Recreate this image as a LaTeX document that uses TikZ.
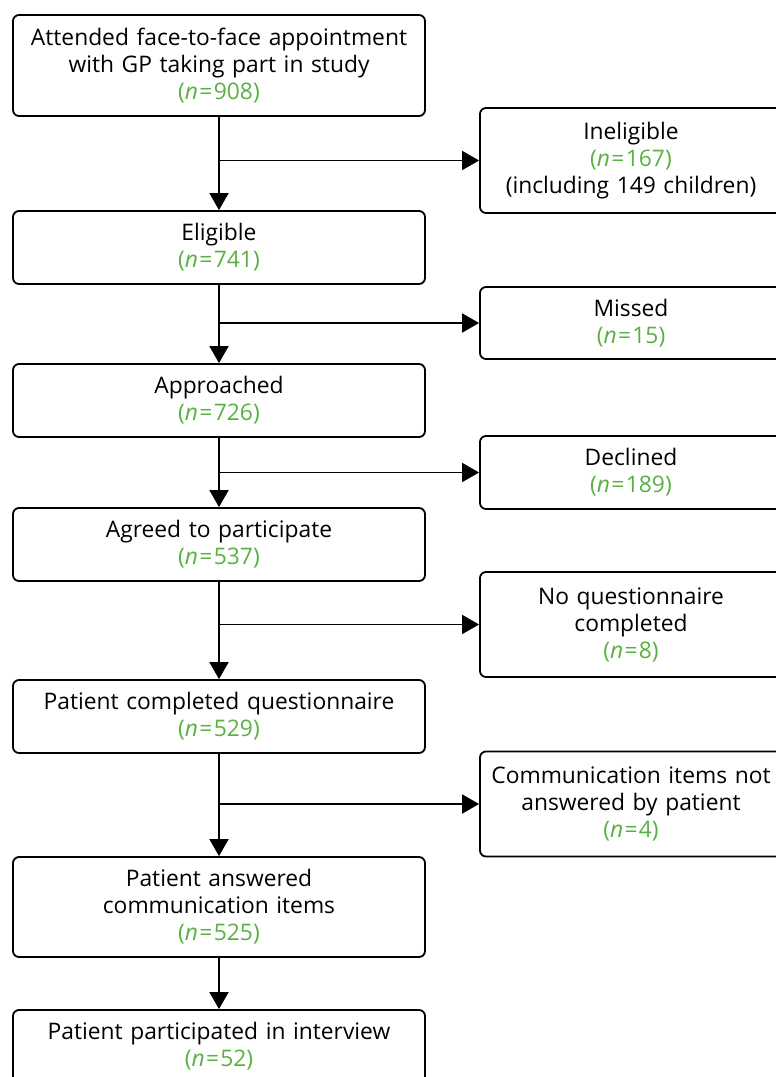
\documentclass[tikz,border=0pt]{standalone}
\usepackage{fontspec}
\setmainfont{Open Sans}
\usetikzlibrary{arrows.meta}
\definecolor{nGreen}{RGB}{90,176,66}
\newcommand{\nval}[1]{{\color{nGreen}(\textit{n}\hspace{0.06em}=\hspace{0.06em}#1)}}

\begin{document}
\begin{tikzpicture}
[x=1pt,y=-1pt,
 box/.style={draw,line width=1.8pt,rounded corners=6pt,align=center,inner sep=0pt,
   font=\fontsize{22.8}{27}\selectfont},
 lbox/.style={box,minimum width=412pt,text width=406pt},
 rbox/.style={box,minimum width=302pt,text width=298pt},
 arr/.style={line width=1.8pt,-{Triangle[length=17pt,width=19pt]}}]
\useasboundingbox (0,0) rectangle (776,1077);

% main column
\node[lbox,minimum height=101pt] (att) at (219,65.5)
  {Attended face-to-face appointment\\with GP taking part in study\\\nval{908}};
\node[lbox,minimum height=73pt] (elig) at (219,247.5) {Eligible\\\nval{741}};
\node[lbox,minimum height=73pt] (appr) at (219,400.5) {Approached\\\nval{726}};
\node[lbox,minimum height=73pt] (agree) at (219,544.5) {Agreed to participate\\\nval{537}};
\node[lbox,minimum height=73pt] (quest) at (219,716.5) {Patient completed questionnaire\\\nval{529}};
\node[lbox,minimum height=100pt] (comm) at (219,907)
  {Patient answered\\communication items\\\nval{525}};
\node[lbox,minimum height=73pt] (intv) at (219,1046.5)
  {Patient participated in interview\\\nval{52}};

% exclusions
\node[rbox,minimum height=105pt] (inel) at (631,160.5)
  {Ineligible\\\nval{167}\\(including 149 children)};
\node[rbox,minimum height=72pt] (miss) at (631,323) {Missed\\\nval{15}};
\node[rbox,minimum height=73pt] (decl) at (631,472.5) {Declined\\\nval{189}};
\node[rbox,minimum height=105pt] (noq) at (631,624.5)
  {No questionnaire\\completed\\\nval{8}};
\node[rbox,minimum height=105pt] (nocomm) at (631,804)
  {Communication items not\\answered by patient\\\nval{4}};

\draw[arr] (att) -- (elig);
\draw[arr] (elig) -- (appr);
\draw[arr] (appr) -- (agree);
\draw[arr] (agree) -- (quest);
\draw[arr] (quest) -- (comm);
\draw[arr] (comm) -- (intv);

\draw[arr] (att.south |- inel.west) -- (inel);
\draw[arr] (elig.south |- miss.west) -- (miss);
\draw[arr] (appr.south |- decl.west) -- (decl);
\draw[arr] (agree.south |- noq.west) -- (noq);
\draw[arr] (quest.south |- nocomm.west) -- (nocomm);
\end{tikzpicture}
\end{document}
